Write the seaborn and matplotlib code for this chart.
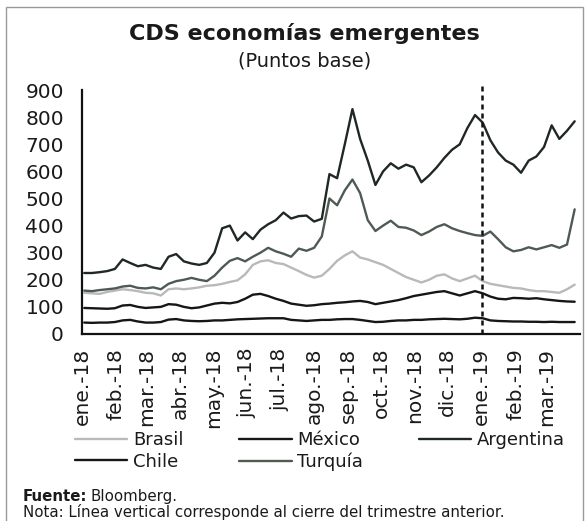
import numpy as np
import pandas as pd
import matplotlib
matplotlib.use('Agg')
import matplotlib.pyplot as plt
import seaborn as sns
from matplotlib.patches import Rectangle
from matplotlib.lines import Line2D

# ---- data (weekly readings, basis points) ----
dates = pd.date_range('2018-01-03', periods=65, freq='7D')

argentina = [225, 225, 228, 232, 240, 275, 262, 250, 255, 245, 240, 285, 295, 268, 260, 255,
             262, 300, 390, 400, 345, 375, 350, 385, 405, 420, 448, 426, 435, 437, 415, 425,
             590, 575, 700, 830, 720, 640, 550, 600, 630, 610, 625, 615, 560, 585, 615, 650,
             680, 700, 760, 808, 780, 715, 670, 640, 625, 595, 640, 655, 690, 770, 720, 750, 785]
turquia = [160, 158, 162, 165, 168, 175, 178, 170, 168, 172, 165, 185, 195, 200, 207, 200,
           195, 215, 245, 270, 280, 268, 285, 300, 318, 305, 296, 285, 315, 307, 318, 360,
           500, 475, 530, 570, 520, 420, 380, 400, 418, 395, 392, 382, 365, 378, 395, 405,
           390, 380, 372, 365, 362, 378, 350, 320, 305, 310, 320, 312, 320, 328, 318, 330, 460]
brasil = [152, 150, 148, 155, 160, 165, 162, 158, 152, 150, 142, 165, 168, 165, 168, 172,
          178, 180, 185, 192, 198, 220, 255, 268, 272, 262, 258, 245, 232, 218, 208, 215,
          240, 270, 290, 305, 282, 275, 265, 255, 240, 225, 210, 200, 190, 200, 215, 220,
          205, 195, 205, 215, 195, 185, 180, 175, 170, 168, 162, 158, 158, 155, 152, 165, 182]
mexico = [96, 95, 94, 93, 95, 105, 107, 100, 96, 98, 100, 110, 108, 100, 95, 98,
          105, 112, 115, 113, 118, 130, 145, 148, 140, 130, 122, 112, 108, 104, 106, 110,
          112, 115, 117, 120, 122, 118, 110, 115, 120, 125, 132, 140, 145, 150, 155, 158,
          150, 142, 150, 158, 150, 138, 130, 128, 133, 132, 130, 132, 128, 125, 122, 120, 119]
chile = [42, 41, 42, 42, 44, 50, 52, 46, 42, 42, 44, 53, 55, 50, 48, 47,
         48, 50, 50, 52, 54, 55, 56, 57, 58, 58, 58, 52, 50, 48, 50, 52,
         52, 54, 55, 55, 52, 48, 44, 45, 48, 50, 50, 52, 52, 54, 55, 56,
         55, 54, 56, 60, 58, 50, 48, 47, 46, 46, 45, 45, 44, 45, 44, 44, 44]

series_names = ['Brasil', 'México', 'Argentina', 'Chile', 'Turquía']
month_labels = ['ene.-18', 'feb.-18', 'mar.-18', 'abr.-18', 'may.-18', 'jun.-18', 'jul.-18',
                'ago.-18', 'sep.-18', 'oct.-18', 'nov.-18', 'dic.-18', 'ene.-19', 'feb.-19', 'mar.-19']
y_ticks = [0, 100, 200, 300, 400, 500, 600, 700, 800, 900]

df = pd.DataFrame({'fecha': list(dates) * 5,
                   'valor': brasil + mexico + argentina + chile + turquia,
                   'pais': sum([[n] * len(dates) for n in series_names], [])})

palette = {'Brasil': '#b9b9b9', 'México': '#161616', 'Argentina': '#202823',
           'Chile': '#161616', 'Turquía': '#4e5b53'}

sns.set_theme(style='white')
plt.rcParams['font.family'] = ['DejaVu Sans']

fig = plt.figure(figsize=(5.86, 5.21), dpi=100)
ax = fig.add_axes([0.140, 0.359, 0.850, 0.468])

draw_order = ['Brasil', 'Turquía', 'México', 'Chile', 'Argentina']
for name in draw_order:
    sub = df[df['pais'] == name]
    sns.lineplot(data=sub, x='fecha', y='valor', color=palette[name], lw=1.7,
                 ax=ax, legend=False)

ax.axvline(pd.Timestamp('2019-01-01'), ymin=0, ymax=1.03, color='#111111', lw=1.8,
           ls=(0, (2, 1.6)), clip_on=False, zorder=5)

ax.set_xlim(pd.Timestamp('2018-01-01'), pd.Timestamp('2019-04-01'))
ax.set_ylim(0, 900)
ax.set_yticks(y_ticks)
ax.set_yticklabels([str(v) for v in y_ticks])
month_ticks = pd.date_range('2018-01-01', periods=len(month_labels), freq='MS')
ax.set_xticks(month_ticks)
ax.set_xticklabels(month_labels, rotation=90)
ax.set_xlabel('')
ax.set_ylabel('')

for s in ['top', 'right']:
    ax.spines[s].set_visible(False)
for s in ['left', 'bottom']:
    ax.spines[s].set_color('#111111')
    ax.spines[s].set_linewidth(1.6)

ax.tick_params(axis='y', direction='in', length=5, width=1.4, color='#111111',
               labelsize=14.5, pad=13, labelcolor='#1a1a1a')
ax.tick_params(axis='x', direction='inout', length=10, width=1.4, color='#111111',
               labelsize=14.5, pad=5, labelcolor='#1a1a1a')

# title
fig.text(0.519, 0.935, 'CDS economías emergentes', ha='center', va='center',
         fontsize=16, fontweight='bold', color='#1a1a1a')
fig.text(0.519, 0.883, '(Puntos base)', ha='center', va='center',
         fontsize=14, color='#1a1a1a')

# legend (column-major order to get rows Brasil/México/Argentina, Chile/Turquía)
leg_order = ['Brasil', 'Chile', 'México', 'Turquía', 'Argentina']
handles = [Line2D([], [], color=palette[n], lw=1.7) for n in leg_order]
fig.legend(handles, leg_order, ncol=3, loc='upper left',
           bbox_to_anchor=(75 / 586, 1 - 431 / 521), frameon=False, fontsize=13,
           handlelength=2.9, handletextpad=0.3, columnspacing=3.1, labelspacing=0.2,
           borderpad=0, borderaxespad=0, labelcolor='#1a1a1a')

# footer
fsize = 10.8
t1 = fig.text(23 / 586, 1 - 501 / 521, 'Fuente:', ha='left', va='baseline',
              fontsize=fsize, fontweight='bold', color='#1a1a1a')
fig.canvas.draw()
bb = t1.get_window_extent()
fig.text((bb.x1 + 3) / 586, 1 - 501 / 521, 'Bloomberg.', ha='left', va='baseline',
         fontsize=fsize, color='#1a1a1a')
fig.text(23 / 586, 1 - 517 / 521,
         'Nota: Línea vertical corresponde al cierre del trimestre anterior.',
         ha='left', va='baseline', fontsize=fsize, color='#1a1a1a')

# outer frame
fig.patches.append(Rectangle((6 / 586, -0.02), (583 - 6) / 586, 1.02 - 7 / 521,
                             transform=fig.transFigure, fill=False, ec='#9a9a9a', lw=1.0))

fig.savefig('out.png', dpi=100)
